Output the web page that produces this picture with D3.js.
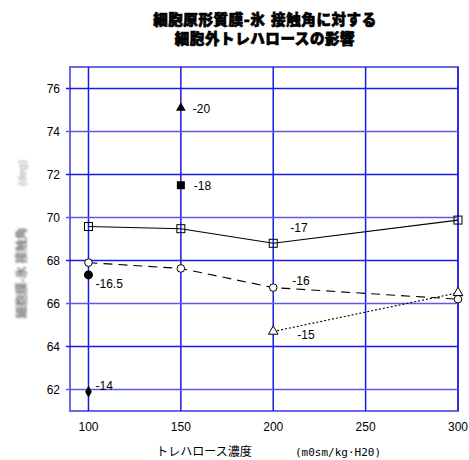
<!DOCTYPE html>
<html><head><meta charset="utf-8">
<script src="https://cdn.jsdelivr.net/npm/d3@7"></script>
<style>body{margin:0;background:#fff}svg{display:block}</style>
</head><body>
<svg id="c" width="469" height="460"></svg>
<script>
const xTicks = [100,150,200,250,300];
const yTicks = [62,64,66,68,70,72,74,76];
const titleLines = ["細胞原形質膜-氷 接触角に対する","細胞外トレハロースの影響"];
const xTitle = "トレハロース濃度";
const xUnit = "(m0sm/kg·H20)";
const yTitle = "細胞膜-氷 接触角";
const yUnit = "(deg)";

const s17x = [100,150,200,300], s17y = [69.58,69.48,68.8,69.88];
const s16x = [100,150,200,300], s16y = [67.9,67.63,66.74,66.2];
const s15x = [200,300], s15y = [64.7,66.5];
const singles = [
  {label:"-20", x:150, y:75.1, shape:"triangle"},
  {label:"-18", x:150, y:71.5, shape:"square"},
  {label:"-16.5", x:100, y:67.33, shape:"circle"},
  {label:"-14", x:100, y:61.9, shape:"diamond"}
];

const svg = d3.select("#c");
const x = d3.scaleLinear().domain([90,300]).range([70,458]);
const y = d3.scaleLinear().domain([61,77]).range([411,67]);
const blue = "#1a1ae6";

svg.append("rect").attr("x",70).attr("y",67).attr("width",388).attr("height",344)
  .attr("fill","none").attr("stroke","#6a6ae8").attr("stroke-width",2);
svg.selectAll(".gx").data(xTicks).enter().append("line")
  .attr("x1",d=>x(d)).attr("x2",d=>x(d)).attr("y1",67).attr("y2",411)
  .attr("stroke",blue).attr("stroke-width",1.5);
svg.selectAll(".gy").data(yTicks).enter().append("line")
  .attr("x1",66).attr("x2",458).attr("y1",d=>y(d)).attr("y2",d=>y(d))
  .attr("stroke",(d,i)=> i%2? blue : "#5a5ae8").attr("stroke-width",1.5);

svg.selectAll(".tx").data(xTicks).enter().append("text")
  .attr("x",d=>x(d)).attr("y",431).attr("text-anchor","middle")
  .attr("font-family","Liberation Sans, Arial").attr("font-size",12).text(d=>d);
svg.selectAll(".ty").data(yTicks).enter().append("text")
  .attr("x",60).attr("y",d=>y(d)+4).attr("text-anchor","end")
  .attr("font-family","Liberation Sans, Arial").attr("font-size",12).text(d=>d);

svg.selectAll(".tt").data(titleLines).enter().append("text")
  .attr("x",265).attr("y",(d,i)=>25+i*18.5).attr("text-anchor","middle")
  .attr("font-family","'DejaVu Sans', 'Noto Sans CJK JP'").attr("font-weight","900").attr("font-size",14.5)
  .attr("letter-spacing",0.6)
  .attr("stroke","#000").attr("stroke-width",0.7).text(d=>d);

svg.append("text").attr("x",204).attr("y",456).attr("text-anchor","middle")
  .attr("font-family","Noto Sans CJK JP").attr("font-size",12).text(xTitle);
svg.append("text").attr("x",338).attr("y",456).attr("text-anchor","middle")
  .attr("font-family","DejaVu Sans Mono").attr("font-size",11).text(xUnit);

const defs = svg.append("defs");
defs.append("filter").attr("id","bl").append("feGaussianBlur").attr("stdDeviation",1);
svg.append("text").attr("transform","translate(26,273) rotate(-90)").attr("text-anchor","middle")
  .attr("font-family","Noto Sans CJK JP").attr("font-weight","bold").attr("font-size",12)
  .attr("fill","#777").attr("filter","url(#bl)").text(yTitle);
svg.append("text").attr("transform","translate(26,173) rotate(-90)").attr("text-anchor","middle")
  .attr("font-family","Liberation Sans").attr("font-size",11)
  .attr("fill","#999").attr("filter","url(#bl)").text(yUnit);

const line = d3.line().x(d=>x(d[0])).y(d=>y(d[1]));
function series(xs, ys, dash, marker){
  const pts = xs.map((v,i)=>[v,ys[i]]);
  svg.append("path").attr("d",line(pts)).attr("fill","none").attr("stroke","#000")
    .attr("stroke-width",1.1).attr("stroke-dasharray",dash);
  pts.forEach(p=>{
    const cx=x(p[0]), cy=y(p[1]);
    if(marker==="sq") svg.append("rect").attr("x",cx-4).attr("y",cy-4).attr("width",8).attr("height",8)
      .attr("fill","none").attr("stroke","#000").attr("stroke-width",1);
    if(marker==="ci") svg.append("circle").attr("cx",cx).attr("cy",cy).attr("r",3.8)
      .attr("fill","#fff").attr("stroke","#000").attr("stroke-width",1);
    if(marker==="tr") svg.append("path").attr("d",d3.symbol(d3.symbolTriangle,40)())
      .attr("transform",`translate(${cx},${cy})`).attr("fill","#fff").attr("stroke","#000").attr("stroke-width",1);
  });
}
series(s17x,s17y,null,"sq");
series(s16x,s16y,"9,6","ci");
series(s15x,s15y,"2,2","tr");

singles.forEach(s=>{
  const cx=x(s.x), cy=y(s.y);
  const g = svg.append("g").attr("transform",`translate(${cx},${cy})`);
  if(s.shape==="triangle") g.append("path").attr("d",d3.symbol(d3.symbolTriangle,40)());
  if(s.shape==="square") g.append("rect").attr("x",-4).attr("y",-4).attr("width",8).attr("height",8);
  if(s.shape==="circle") g.append("circle").attr("r",4.5);
  if(s.shape==="diamond") g.append("path").attr("d",d3.symbol(d3.symbolDiamond,40)());
});

const lbl = (t,px,py)=>svg.append("text").attr("x",px).attr("y",py)
  .attr("font-family","Liberation Sans, Arial").attr("font-size",12).text(t);
lbl(singles[0].label, x(150)+12, y(singles[0].y)+5);
lbl(singles[1].label, x(150)+13, y(singles[1].y)+5);
lbl(singles[2].label, x(100)+7, y(singles[2].y)+13);
lbl(singles[3].label, x(100)+7, y(singles[3].y)-2);
lbl("-17", x(200)+17, y(s17y[2])-11);
lbl("-16", x(200)+19, y(s16y[2])-3);
lbl("-15", x(200)+24, y(s15y[0])+8);
</script>
</body></html>
